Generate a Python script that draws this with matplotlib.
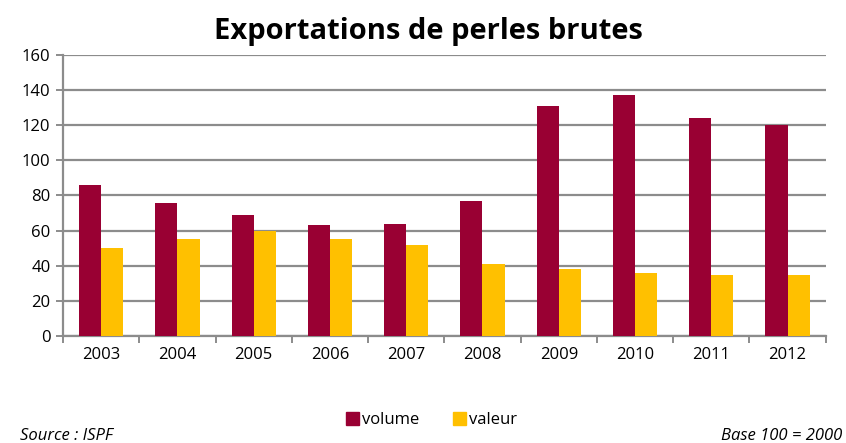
import numpy as np
import matplotlib.pyplot as plt
from matplotlib.patches import Patch

years = ["2003", "2004", "2005", "2006", "2007", "2008", "2009", "2010", "2011", "2012"]
volume = [86, 76, 69, 63, 64, 77, 131, 137, 124, 120]
valeur = [50, 55, 60, 55, 52, 41, 38, 36, 35, 35]

col_volume = "#990033"
col_valeur = "#FFC000"
grid_col = "#8c8c8c"

plt.rcParams["font.family"] = ["Open Sans", "DejaVu Sans"]

fig = plt.figure(figsize=(8.46, 4.43), dpi=100)
ax = fig.add_axes([0.0745, 0.2415, 0.9015, 0.6345])

x = np.arange(len(years))
w = 0.29
ax.bar(x - w / 2, volume, w, color=col_volume, zorder=3)
ax.bar(x + w / 2, valeur, w, color=col_valeur, zorder=3)

ax.set_xlim(-0.5, len(years) - 0.5)
ax.set_ylim(0, 160)
ax.set_yticks(range(0, 161, 20))
ax.yaxis.grid(True, color=grid_col, linewidth=1.6, zorder=0)

# category labels centred, tick marks between groups
ax.set_xticks(x)
ax.set_xticklabels(years, fontsize=12)
ax.tick_params(axis="x", length=0, pad=8)
ax.set_xticks(np.arange(-0.5, len(years)), minor=True)
ax.tick_params(axis="x", which="minor", length=5, width=1.4, color=grid_col)
ax.tick_params(axis="y", length=5, width=1.4, color=grid_col, labelsize=12, pad=4)

for side in ["top", "right"]:
    ax.spines[side].set_visible(False)
for side in ["left", "bottom"]:
    ax.spines[side].set_color(grid_col)
    ax.spines[side].set_linewidth(1.6)

fig.text(0.507, 0.93, "Exportations de perles brutes", ha="center", va="center",
         fontsize=21, fontweight="bold")

handles = [Patch(color=col_volume, label="volume"), Patch(color=col_valeur, label="valeur")]
fig.legend(handles=handles, loc="center", bbox_to_anchor=(0.51, 0.052), ncol=2,
           frameon=False, fontsize=12, handlelength=0.8, handleheight=0.8,
           handletextpad=0.2, columnspacing=2.0)

fig.text(0.024, 0.016, "Source : ISPF", ha="left", va="center", fontsize=12, style="italic")
fig.text(0.995, 0.016, "Base 100 = 2000", ha="right", va="center", fontsize=12, style="italic")

fig.savefig("out.png", dpi=100)
